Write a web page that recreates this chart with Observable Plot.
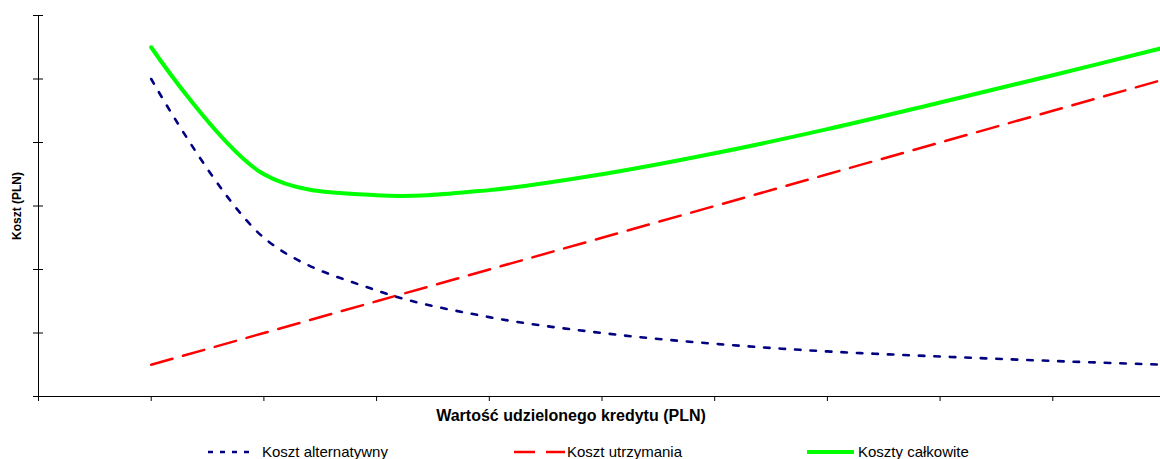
<!DOCTYPE html>
<html>
<head>
<meta charset="utf-8">
<script src="https://cdn.jsdelivr.net/npm/d3@7"></script>
<script src="https://cdn.jsdelivr.net/npm/@observablehq/plot@0.6"></script>
<style>
  html, body { margin: 0; padding: 0; background: #fff; overflow: hidden; }
  body { width: 1160px; height: 459px; font-family: "Liberation Sans", Arial, sans-serif; }
  #chart svg { overflow: hidden; display: block; }
  #legend { position: relative; height: 29px; font-size: 15px; color: #000; overflow: hidden; }
  .sample { position: absolute; top: 17px; }
  .label { position: absolute; top: 13px; line-height: 17px; white-space: nowrap; }
</style>
</head>
<body>
<div id="chart"></div>
<div id="legend"></div>
<script>
// Data (arbitrary units, no tick labels shown)
const xValues = [1, 2, 3, 4, 5, 6, 7, 8, 9, 10];
const kosztAlternatywny = [5.00, 2.50, 1.67, 1.25, 1.00, 0.83, 0.71, 0.63, 0.56, 0.50];
const kosztUtrzymania = [0.50, 1.00, 1.50, 2.00, 2.50, 3.00, 3.50, 4.00, 4.50, 5.00];
const kosztyCalkowite = [5.50, 3.50, 3.17, 3.25, 3.50, 3.83, 4.21, 4.63, 5.06, 5.50];
const xTicks = [0, 1, 2, 3, 4, 5, 6, 7, 8, 9, 10];
const yTicks = [0, 1, 2, 3, 4, 5, 6];
const seriesNames = ["Koszt alternatywny", "Koszt utrzymania", "Koszty całkowite"];
const seriesColors = ["#000080", "#FF0000", "#00FF00"];
const xLabel = "Wartość udzielonego kredytu (PLN)";
const yLabel = "Koszt (PLN)";

const toRows = (vals) => xValues.map((x, i) => ({x, y: vals[i]}));
const alt = toRows(kosztAlternatywny);
const utr = toRows(kosztUtrzymania);
const calk = toRows(kosztyCalkowite);

const chart = Plot.plot({
  width: 1160,
  height: 430,
  marginLeft: 38,
  marginRight: -5,
  marginTop: 15,
  marginBottom: 34,
  style: {fontFamily: "'Liberation Sans', Arial, sans-serif", background: "#fff", overflow: "hidden"},
  x: {domain: [0, 10], axis: null},
  y: {domain: [0, 6], axis: null},
  marks: [
    Plot.axisX({ticks: xTicks, tickSize: 5, tickFormat: () => "", stroke: "#000", label: null}),
    Plot.axisY({ticks: yTicks, tickSize: 10, dx: 5, tickFormat: () => "", stroke: "#000", label: null}),
    Plot.ruleY([0], {stroke: "#000", strokeWidth: 1}),
    Plot.ruleX([0], {stroke: "#000", strokeWidth: 1}),
    Plot.line(utr, {x: "x", y: "y", stroke: seriesColors[1], strokeWidth: 2.5, strokeDasharray: "22,11", clip: true}),
    Plot.line(alt, {x: "x", y: "y", curve: "catmull-rom", stroke: seriesColors[0], strokeWidth: 2.6, strokeDasharray: "5.5,10", clip: true}),
    Plot.line(calk, {x: "x", y: "y", curve: "catmull-rom", stroke: seriesColors[2], strokeWidth: 4, clip: true}),
    Plot.text([xLabel], {frameAnchor: "bottom", lineAnchor: "middle", textAnchor: "middle", dx: -31, dy: 19, fontWeight: "bold", fontSize: 16, fill: "#000"}),
    Plot.text([yLabel], {frameAnchor: "left", rotate: -90, textAnchor: "middle", lineAnchor: "middle", dx: -21, fontWeight: "bold", fontSize: 12, fill: "#000"})
  ]
});
document.getElementById("chart").appendChild(chart);

// Legend
const legend = document.getElementById("legend");
const sampleStart = [208, 514, 807];
const sampleEnd = [250, 565, 854];
const labelStart = [262, 567, 858];
const legendDashes = ["5,7", "21,11", null];
const legendWidths = [2.6, 2.5, 4];
const ns = "http://www.w3.org/2000/svg";
seriesNames.forEach((name, i) => {
  const s = document.createElementNS(ns, "svg");
  s.setAttribute("class", "sample");
  s.style.left = sampleStart[i] + "px";
  const w = sampleEnd[i] - sampleStart[i];
  s.setAttribute("width", w);
  s.setAttribute("height", 10);
  const l = document.createElementNS(ns, "line");
  l.setAttribute("x1", 0); l.setAttribute("x2", w);
  l.setAttribute("y1", 5); l.setAttribute("y2", 5);
  l.setAttribute("stroke", seriesColors[i]);
  l.setAttribute("stroke-width", legendWidths[i]);
  if (legendDashes[i]) l.setAttribute("stroke-dasharray", legendDashes[i]);
  s.appendChild(l);
  legend.appendChild(s);
  const t = document.createElement("span");
  t.className = "label";
  t.style.left = labelStart[i] + "px";
  t.textContent = name;
  legend.appendChild(t);
});
</script>
</body>
</html>
